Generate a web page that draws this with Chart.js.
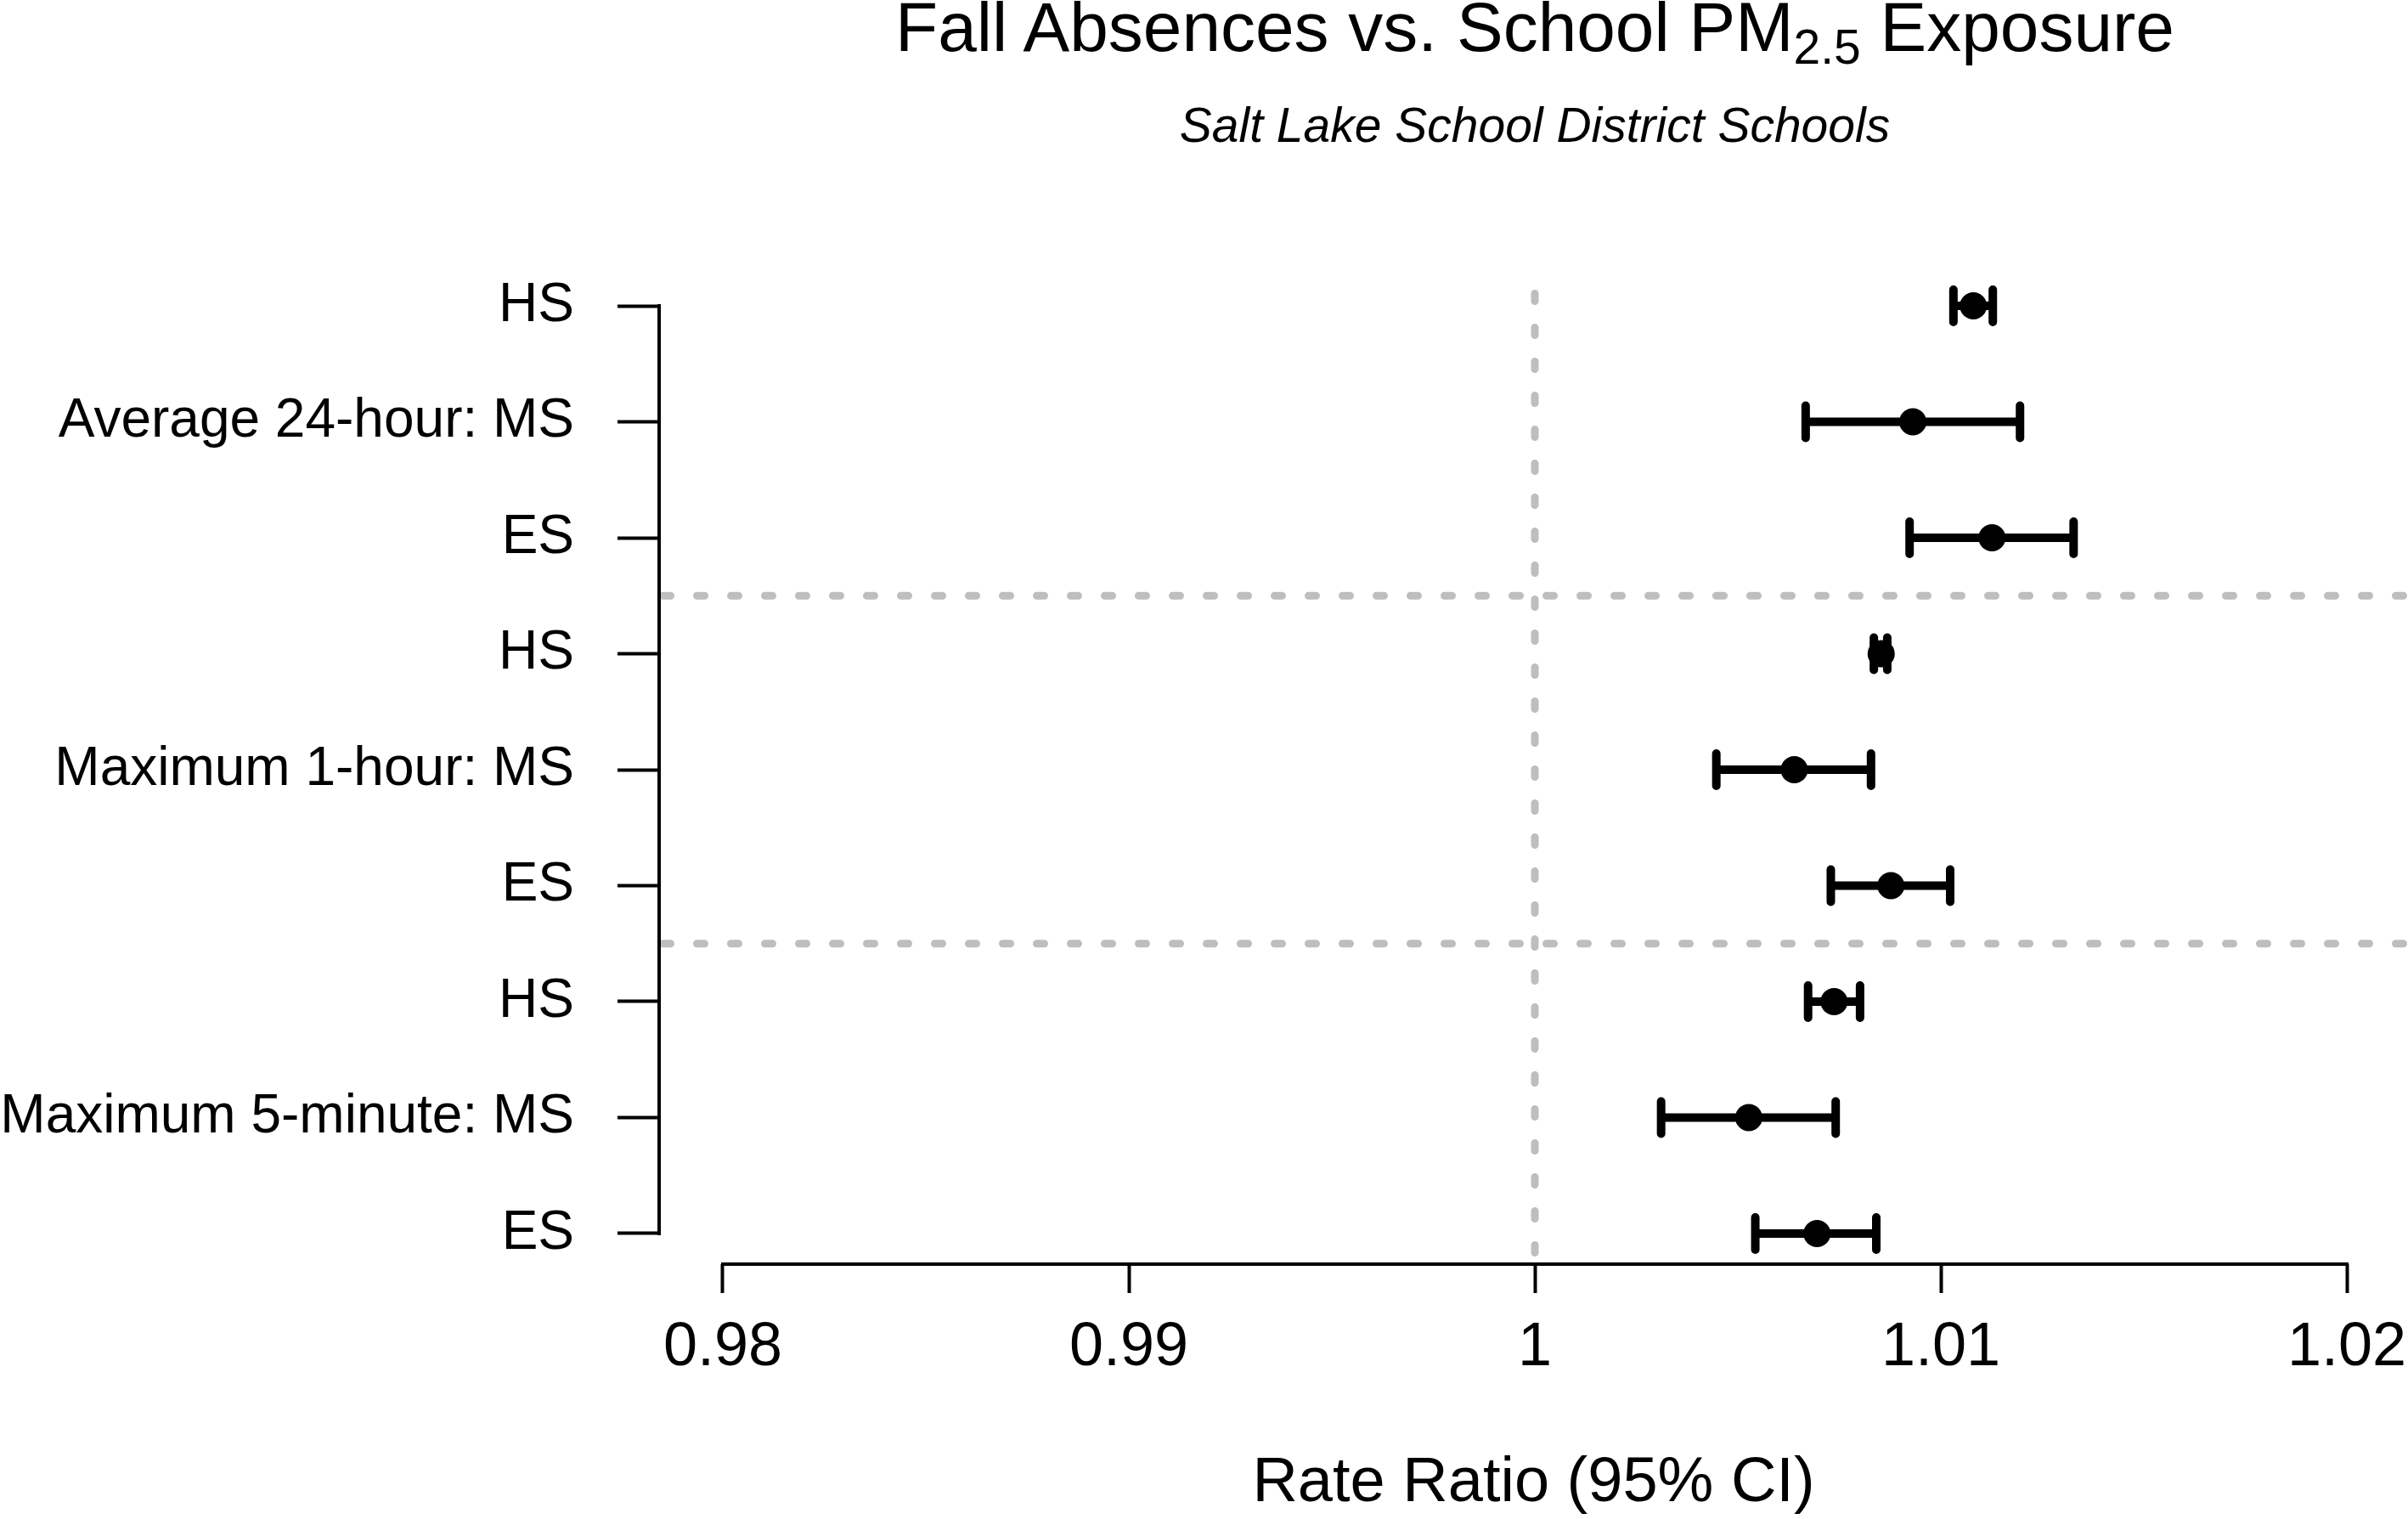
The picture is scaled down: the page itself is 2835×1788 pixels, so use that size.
<!DOCTYPE html>
<html>
<head>
<meta charset="utf-8">
<title>Fall Absences vs. School PM2.5 Exposure</title>
<script src="https://cdn.jsdelivr.net/npm/chart.js@4.4.1/dist/chart.umd.min.js"></script>
<style>
  html, body { margin: 0; padding: 0; background: #fff; }
  #wrap { position: relative; width: 2835px; height: 1788px; overflow: hidden; }
  #chart { position: absolute; left: 0; top: 0; }
  .title {
    position: absolute; left: 775px; width: 2064px; text-align: center;
    font-family: "Liberation Sans", Arial, sans-serif; color: #000; white-space: nowrap;
  }
  #mainTitle { top: -9px; font-size: 82px; line-height: 82px; }
  #mainTitle sub { font-size: 57px; line-height: 0; vertical-align: baseline; position: relative; top: 15px; }
  #subTitle { top: 119px; font-size: 57px; line-height: 57px; font-style: italic; }
</style>
</head>
<body>
<div id="wrap">
  <canvas id="chart" width="2835" height="1788"></canvas>
  <div id="mainTitle" class="title">Fall Absences vs. School PM<sub>2.5</sub> Exposure</div>
  <div id="subTitle" class="title">Salt Lake School District Schools</div>
</div>
<script>
// rows from top to bottom
const rowLabels = [
  "HS", "Average 24-hour: MS", "ES",
  "HS", "Maximum 1-hour: MS", "ES",
  "HS", "Maximum 5-minute: MS", "ES",
]
const rateRatio = [1.01080, 1.00931, 1.01126, 1.00853, 1.00639, 1.00877, 1.00737, 1.00527, 1.00695]
const ciLower = [1.01031, 1.00667, 1.00923, 1.00835, 1.00447, 1.00729, 1.00673, 1.00311, 1.00543]
const ciUpper = [1.01128, 1.01195, 1.01327, 1.00868, 1.00828, 1.01023, 1.00801, 1.00741, 1.00841]

const xTicks = [0.98, 0.99, 1, 1.01, 1.02]
const xTickLabels = ["0.98", "0.99", "1", "1.01", "1.02"]
const groupBreaks = [3.5, 6.5]
const refValue = 1

const FONT = '"Liberation Sans", Arial, sans-serif'

// dotted reference lines, error bars and the R-style axis lines
const forestPlugin = {
  id: "forest",
  beforeDatasetsDraw(chart) {
    const { ctx, chartArea, scales } = chart
    const x = scales.x
    const y = scales.y

    ctx.save()
    ctx.strokeStyle = "#bebebe"
    ctx.lineWidth = 9
    ctx.lineCap = "round"
    ctx.setLineDash([9, 31])

    // vertical line at 1
    const xr = x.getPixelForValue(refValue)
    ctx.lineDashOffset = 18.5
    ctx.beginPath()
    ctx.moveTo(xr, chartArea.top)
    ctx.lineTo(xr, chartArea.bottom)
    ctx.stroke()

    // group separators
    ctx.lineDashOffset = 35.5
    groupBreaks.forEach((b) => {
      const yb = y.getPixelForValue(b)
      ctx.beginPath()
      ctx.moveTo(chartArea.left, yb)
      ctx.lineTo(chartArea.right, yb)
      ctx.stroke()
    })
    ctx.restore()

    // confidence intervals
    ctx.save()
    ctx.strokeStyle = "#000"
    ctx.lineWidth = 10
    ctx.lineCap = "round"
    rateRatio.forEach((_, i) => {
      const yp = y.getPixelForValue(i + 1)
      const x1 = x.getPixelForValue(ciLower[i])
      const x2 = x.getPixelForValue(ciUpper[i])
      ctx.beginPath()
      ctx.moveTo(x1, yp)
      ctx.lineTo(x2, yp)
      ctx.moveTo(x1, yp - 19)
      ctx.lineTo(x1, yp + 19)
      ctx.moveTo(x2, yp - 19)
      ctx.lineTo(x2, yp + 19)
      ctx.stroke()
    })
    ctx.restore()
  },
  afterDraw(chart) {
    const { ctx, chartArea, scales } = chart
    const x = scales.x
    const y = scales.y
    ctx.save()
    ctx.strokeStyle = "#000"
    ctx.lineWidth = 4
    ctx.lineCap = "square"
    ctx.beginPath()
    ctx.moveTo(chartArea.left, y.getPixelForValue(1))
    ctx.lineTo(chartArea.left, y.getPixelForValue(rowLabels.length))
    ctx.moveTo(x.getPixelForValue(xTicks[0]), chartArea.bottom)
    ctx.lineTo(x.getPixelForValue(xTicks[xTicks.length - 1]), chartArea.bottom)
    ctx.stroke()
    ctx.restore()
  },
}

function createForestPlot() {
  const ctx = document.getElementById("chart").getContext("2d")

  new Chart(ctx, {
    type: "scatter",
    data: {
      datasets: [
        {
          label: "Rate Ratio",
          data: rateRatio.map((v, i) => ({ x: v, y: i + 1 })),
          backgroundColor: "#000",
          borderWidth: 0,
          pointRadius: 16,
          pointHoverRadius: 16,
        },
      ],
    },
    options: {
      responsive: false,
      maintainAspectRatio: false,
      animation: false,
      layout: {
        autoPadding: false,
        padding: { top: 324, left: 0, right: 0, bottom: 0 },
      },
      plugins: {
        legend: { display: false },
        tooltip: { enabled: false },
      },
      scales: {
        x: {
          type: "linear",
          min: 0.978431,
          max: 1.021506,
          afterBuildTicks: (scale) => {
            scale.ticks = xTicks.map((v) => ({ value: v }))
          },
          afterFit: (scale) => {
            scale.height = 300
            scale.paddingLeft = 0
            scale.paddingRight = 0
          },
          ticks: {
            autoSkip: false,
            maxRotation: 0,
            padding: 22,
            color: "#000",
            font: { family: FONT, size: 72 },
            callback: (value, index) => xTickLabels[index],
          },
          grid: {
            drawOnChartArea: false,
            drawTicks: true,
            tickLength: 34,
            tickWidth: 4,
            tickColor: "#000",
          },
          border: { display: false },
          title: {
            display: true,
            text: "Rate Ratio (95% CI)",
            color: "#000",
            font: { family: FONT, size: 74, lineHeight: 1 },
            padding: { top: 0, bottom: 4 },
          },
        },
        y: {
          type: "linear",
          reverse: true,
          min: 0.736,
          max: 9.264,
          afterBuildTicks: (scale) => {
            scale.ticks = rowLabels.map((_, i) => ({ value: i + 1 }))
          },
          afterFit: (scale) => {
            scale.width = 776
          },
          ticks: {
            autoSkip: false,
            padding: 51,
            color: "#000",
            font: { family: FONT, size: 64 },
            callback: (value, index) => rowLabels[index],
          },
          grid: {
            drawOnChartArea: false,
            drawTicks: true,
            tickLength: 49,
            tickWidth: 4,
            tickColor: "#000",
          },
          border: { display: false },
        },
      },
    },
    plugins: [forestPlugin],
  })
}

document.addEventListener("DOMContentLoaded", () => {
  createForestPlot()
})
</script>
</body>
</html>
